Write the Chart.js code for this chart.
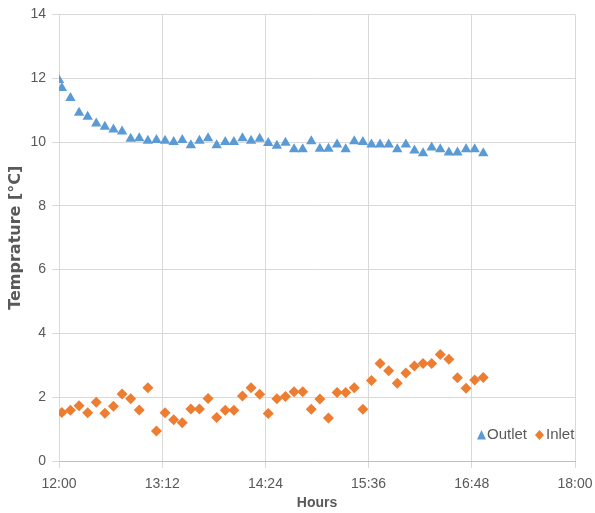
<!DOCTYPE html>
<html>
<head>
<meta charset="utf-8">
<script src="https://cdn.jsdelivr.net/npm/chart.js@4.4.1/dist/chart.umd.min.js"></script>
<style>
  html, body { margin: 0; padding: 0; background: #fff; }
  #wrap { width: 595px; height: 513px; }
</style>
</head>
<body>
<div id="wrap"><canvas id="tempChart" width="595" height="513"></canvas></div>
<script>
// sample times (outlet has one extra reading at 12:00)
const times = [
    "12:00", "12:02", "12:08", "12:14", "12:20", "12:26", "12:32", "12:38", "12:44", "12:50",
    "12:56", "13:02", "13:08", "13:14", "13:20", "13:26", "13:32", "13:38", "13:44", "13:50",
    "13:56", "14:02", "14:08", "14:14", "14:20", "14:26", "14:32", "14:38", "14:44", "14:50",
    "14:56", "15:02", "15:08", "15:14", "15:20", "15:26", "15:32", "15:38", "15:44", "15:50",
    "15:56", "16:02", "16:08", "16:14", "16:20", "16:26", "16:32", "16:38", "16:44", "16:50",
    "16:56"
];

const outletTemp = [
    11.94, 11.69, 11.38, 10.92, 10.79, 10.58, 10.48, 10.39, 10.33, 10.10,
    10.12, 10.04, 10.06, 10.04, 10.00, 10.06, 9.90, 10.04, 10.12, 9.90,
    10.00, 10.00, 10.12, 10.04, 10.10, 9.97, 9.88, 9.98, 9.77, 9.77,
    10.02, 9.79, 9.79, 9.92, 9.77, 10.02, 10.00, 9.92, 9.92, 9.92,
    9.77, 9.92, 9.73, 9.65, 9.83, 9.77, 9.67, 9.67, 9.77, 9.77,
    9.65
];

const inletTemp = [
    1.52, 1.59, 1.73, 1.51, 1.84, 1.50, 1.72, 2.10, 1.95, 1.60,
    2.30, 0.94, 1.51, 1.29, 1.20, 1.63, 1.63, 1.96, 1.36, 1.59,
    1.59, 2.04, 2.30, 2.09, 1.49, 1.95, 2.02, 2.17, 2.17, 1.62,
    1.94, 1.35, 2.15, 2.15, 2.30, 1.62, 2.52, 3.06, 2.83, 2.44,
    2.76, 2.98, 3.06, 3.06, 3.34, 3.19, 2.61, 2.28, 2.54, 2.62
];

const yTicks = [0, 2, 4, 6, 8, 10, 12, 14];
const xTickLabels = ["12:00", "13:12", "14:24", "15:36", "16:48", "18:00"];

const BLUE = "#5B9BD5";
const ORANGE = "#ED7D31";
const TEXT = "#595959";
const GRID = "#D9D9D9";
const FONT = "'Liberation Sans', Arial, sans-serif";

// minutes after 12:00
function toMin(t) {
    const [h, m] = t.split(":").map(Number);
    return (h - 12) * 60 + m;
}

const outletPts = outletTemp.map((v, i) => ({ x: toMin(times[i]), y: v }));
const inletPts = inletTemp.map((v, i) => ({ x: toMin(times[i + 1]), y: v }));

// legend inside the plot, bottom right
const insideLegend = {
    id: "insideLegend",
    afterDraw(chart) {
        const ctx = chart.ctx;
        const y = 435;
        ctx.save();
        ctx.font = "15px " + FONT;
        ctx.textBaseline = "middle";

        let x = 477;
        ctx.fillStyle = BLUE;
        ctx.beginPath();
        ctx.moveTo(x + 4.5, y - 5);
        ctx.lineTo(x + 9, y + 4.5);
        ctx.lineTo(x, y + 4.5);
        ctx.closePath();
        ctx.fill();
        ctx.fillStyle = TEXT;
        ctx.fillText(chart.data.datasets[0].label, x + 10, y);

        x = 535;
        ctx.fillStyle = ORANGE;
        ctx.beginPath();
        ctx.moveTo(x + 4.5, y - 5);
        ctx.lineTo(x + 9, y);
        ctx.lineTo(x + 4.5, y + 5);
        ctx.lineTo(x, y);
        ctx.closePath();
        ctx.fill();
        ctx.fillStyle = TEXT;
        ctx.fillText(chart.data.datasets[1].label, x + 11, y);
        ctx.restore();
    }
};

const ctx = document.getElementById("tempChart").getContext("2d");

new Chart(ctx, {
    type: "scatter",
    data: {
        datasets: [{
            label: "Outlet",
            data: outletPts,
            pointStyle: "triangle",
            pointRadius: 6,
            backgroundColor: BLUE,
            borderColor: BLUE,
            borderWidth: 0
        }, {
            label: "Inlet",
            data: inletPts,
            pointStyle: "rectRot",
            pointRadius: 5.5,
            backgroundColor: ORANGE,
            borderColor: ORANGE,
            borderWidth: 0
        }]
    },
    options: {
        responsive: false,
        animation: false,
        layout: { padding: { top: 13, right: 0, left: 0, bottom: 0 } },
        plugins: {
            legend: { display: false },
            tooltip: { enabled: false }
        },
        scales: {
            x: {
                type: "linear",
                min: 0,
                max: 360,
                afterBuildTicks(scale) {
                    scale.ticks = xTickLabels.map(t => ({ value: toMin(t) }));
                },
                afterFit(scale) {
                    scale.height = 52;
                    scale.paddingLeft = 0;
                    scale.paddingRight = 20;
                },
                grid: { color: GRID, tickLength: 7 },
                border: { color: "#BFBFBF" },
                ticks: {
                    color: TEXT,
                    font: { family: FONT, size: 14 },
                    padding: 8,
                    maxRotation: 0,
                    callback: (v) => xTickLabels.find(t => toMin(t) === v)
                },
                title: {
                    display: true,
                    text: "Hours",
                    color: TEXT,
                    font: { family: FONT, size: 14, weight: "bold" },
                    padding: { top: 0, bottom: 1 }
                }
            },
            y: {
                min: 0,
                max: 14,
                afterBuildTicks(scale) {
                    scale.ticks = yTicks.map(v => ({ value: v }));
                },
                afterFit(scale) { scale.width = 59; },
                grid: { color: GRID, tickLength: 7 },
                border: { color: GRID },
                ticks: {
                    color: TEXT,
                    font: { family: FONT, size: 14 },
                    padding: 6
                },
                title: {
                    display: true,
                    text: "Temprature [°C]",
                    color: TEXT,
                    font: { family: "'DejaVu Sans', sans-serif", size: 16, weight: "bold" },
                    padding: { top: 6, bottom: 0 }
                }
            }
        }
    },
    plugins: [insideLegend]
});
</script>
</body>
</html>
